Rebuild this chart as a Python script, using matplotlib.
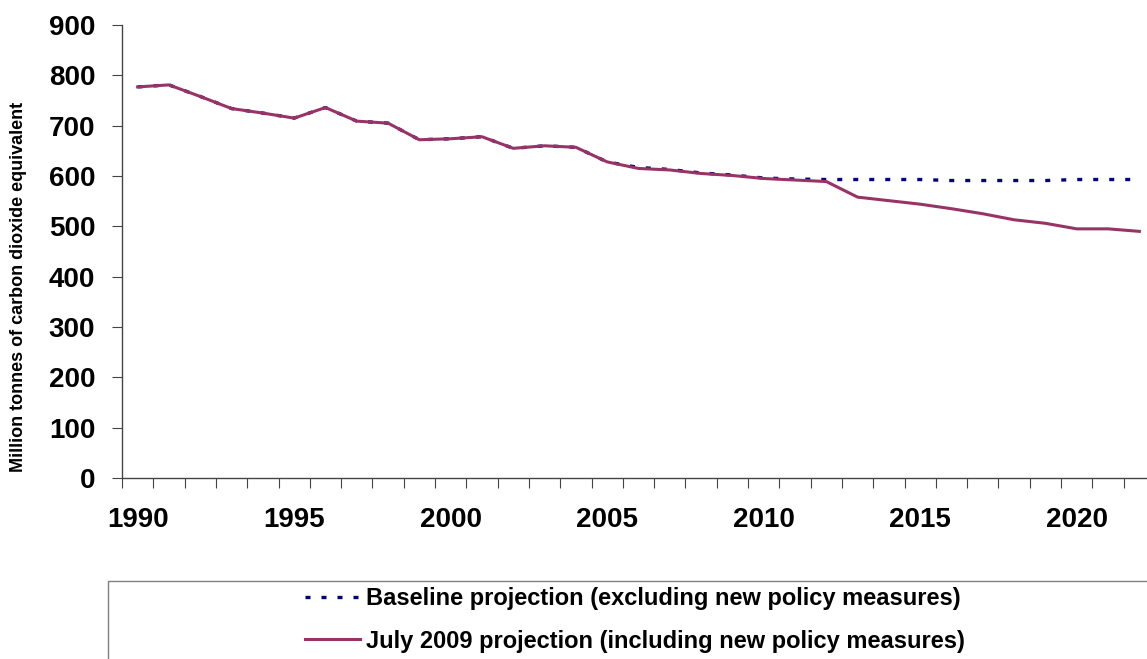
import matplotlib
matplotlib.use("Agg")
import matplotlib.pyplot as plt
from matplotlib.patches import Rectangle
from matplotlib.ticker import FixedLocator, NullFormatter

plt.rcParams['font.family'] = ['Liberation Sans', 'DejaVu Sans']

years = list(range(1990, 2023))
baseline = [777, 781, 758, 734, 725, 715, 736, 709, 705, 672,
            674, 678, 655, 660, 657, 628, 617, 613, 606, 602,
            596, 594, 593, 593, 593, 593, 591, 591, 591, 591,
            593, 593, 593]
july2009 = [777, 781, 758, 734, 725, 715, 736, 709, 705, 672,
            674, 678, 655, 660, 657, 628, 615, 612, 605, 601,
            595, 592, 589, 558, 551, 544, 535, 525, 513, 506,
            495, 495, 490]
yticks = [0, 100, 200, 300, 400, 500, 600, 700, 800, 900]
xlabel_years = [1990, 1995, 2000, 2005, 2010, 2015, 2020]
series_labels = ["Baseline projection (excluding new policy measures)",
                 "July 2009 projection (including new policy measures)"]

W, H = 1147, 659
fig = plt.figure(figsize=(W / 100, H / 100), dpi=100)
ax = fig.add_axes([122 / W, (H - 478) / H, 1033 / W, 453 / H])

idx = list(range(len(years)))
l1, = ax.plot(idx, baseline, color='#000080', lw=2.4,
              linestyle=(0, (1.5, 3.3)), dash_capstyle='butt', zorder=2)
l2, = ax.plot(idx, july2009, color='#993366', lw=2.2, zorder=3)

ax.set_xlim(-0.5, len(years) - 0.5)
ax.set_ylim(0, 900)
ax.set_yticks(yticks)
ax.set_yticklabels([str(v) for v in yticks], fontsize=20, fontweight='bold')
ax.tick_params(axis='y', direction='out', length=7.2, width=0.8,
               color='#444444', pad=12)

ax.set_xticks([years.index(y) for y in xlabel_years])
ax.set_xticklabels([str(y) for y in xlabel_years], fontsize=20, fontweight='bold')
ax.tick_params(axis='x', which='major', length=0, pad=21)
ax.xaxis.set_minor_locator(FixedLocator([i - 0.5 for i in range(len(years) + 1)]))
ax.xaxis.set_minor_formatter(NullFormatter())
ax.tick_params(axis='x', which='minor', direction='out', length=7.2,
               width=0.8, color='#444444')

for s in ('top', 'right'):
    ax.spines[s].set_visible(False)
for s in ('left', 'bottom'):
    ax.spines[s].set_color('#444444')
    ax.spines[s].set_linewidth(1.0)

ax.set_ylabel("Million tonnes of carbon dioxide equivalent",
              fontsize=13, fontweight='bold')
ax.yaxis.set_label_coords(-0.092, 0.4216)

# legend panel below the plot
fig.patches.append(Rectangle((108 / W, -0.05), 1.1, (H - 581) / H + 0.05,
                             transform=fig.transFigure, facecolor='white',
                             edgecolor='#808080', lw=1.0, zorder=0))
fig.legend([l1, l2], series_labels, loc='center',
           bbox_to_anchor=(635 / W, 39 / H), frameon=False,
           prop={'weight': 'bold', 'size': 17}, handlelength=2.3,
           handletextpad=0.25, labelspacing=0.82)

fig.savefig("out.png", dpi=100)
